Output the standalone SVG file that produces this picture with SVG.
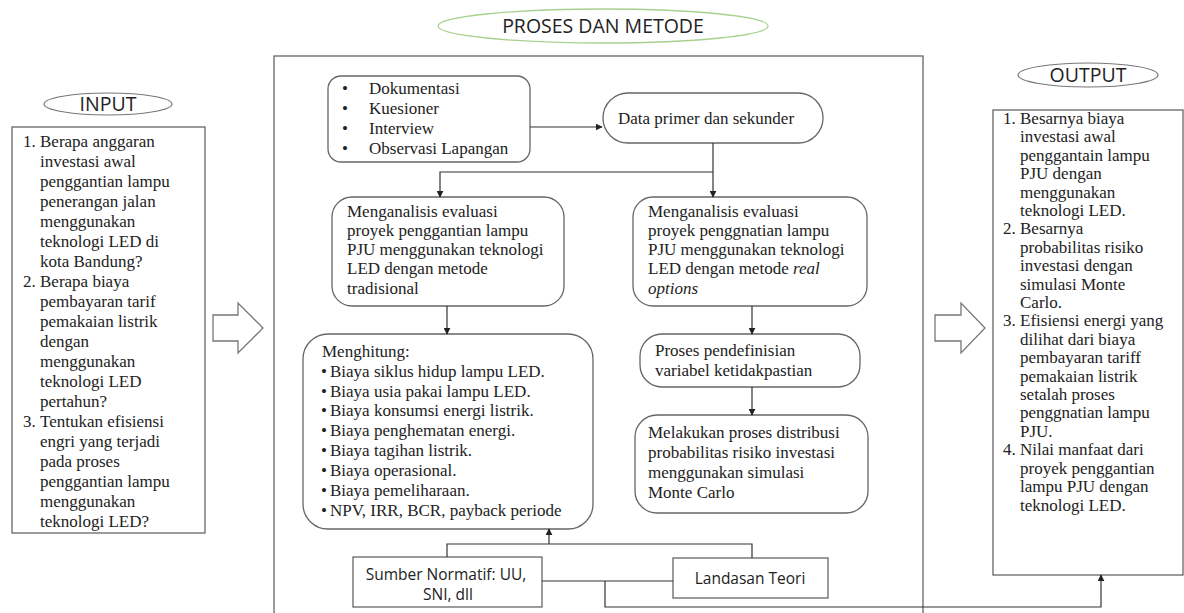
<svg xmlns="http://www.w3.org/2000/svg" width="1184" height="613" viewBox="0 0 1184 613">
<defs>
<style>
.t{font-family:"Liberation Serif","Times New Roman",serif;font-size:17px;fill:#222}
.s{font-family:"Open Sans","Liberation Sans",Arial,sans-serif;fill:#222}
.ttl{font-size:19.5px}
.box{fill:#fff;stroke:#666;stroke-width:1.3}
.c{fill:none;stroke:#333;stroke-width:1.2}
.blk{fill:#fff;stroke:#777;stroke-width:1.3}
</style>
<marker id="ah" viewBox="0 0 10 10" refX="9" refY="5" markerWidth="7" markerHeight="7" markerUnits="userSpaceOnUse" orient="auto">
<path d="M0,0 L10,5 L0,10 z" fill="#222"/>
</marker>
</defs>
<rect width="1184" height="613" fill="#fff"/>

<g id="input-title">
<ellipse cx="108" cy="104" rx="64" ry="11" fill="#fff" stroke="#777" stroke-width="1.2"/>
<text class="s ttl" x="108" y="111" text-anchor="middle">INPUT</text>
</g>

<g id="input-box">
<rect class="box" x="12" y="127" width="193" height="406"/>
<text class="t">
<tspan x="23" y="147">1.</tspan><tspan x="40" y="147">Berapa anggaran</tspan>
<tspan x="40" y="167">investasi awal</tspan>
<tspan x="40" y="187">penggantian lampu</tspan>
<tspan x="40" y="207">penerangan jalan</tspan>
<tspan x="40" y="227">menggunakan</tspan>
<tspan x="40" y="247">teknologi LED di</tspan>
<tspan x="40" y="267">kota Bandung?</tspan>
<tspan x="23" y="287">2.</tspan><tspan x="40" y="287">Berapa biaya</tspan>
<tspan x="40" y="307">pembayaran tarif</tspan>
<tspan x="40" y="327">pemakaian listrik</tspan>
<tspan x="40" y="347">dengan</tspan>
<tspan x="40" y="367">menggunakan</tspan>
<tspan x="40" y="387">teknologi LED</tspan>
<tspan x="40" y="407">pertahun?</tspan>
<tspan x="23" y="427">3.</tspan><tspan x="40" y="427">Tentukan efisiensi</tspan>
<tspan x="40" y="447">engri yang terjadi</tspan>
<tspan x="40" y="467">pada proses</tspan>
<tspan x="40" y="487">penggantian lampu</tspan>
<tspan x="40" y="507">menggunakan</tspan>
<tspan x="40" y="527">teknologi LED?</tspan>
</text>
</g>

<g id="arrow-left">
<polygon class="blk" points="213,315 238,315 238,303 263,328 238,353 238,341 213,341"/>
</g>

<g id="proses-title">
<ellipse cx="603" cy="26" rx="165" ry="17" fill="#fff" stroke="#a9d18e" stroke-width="1.3"/>
<text class="s ttl" x="603" y="33" text-anchor="middle">PROSES DAN METODE</text>
</g>

<g id="proses-frame">
<rect x="274" y="56" width="649" height="580" fill="none" stroke="#666" stroke-width="1.3"/>
</g>

<g id="dokumentasi">
<rect class="box" x="328" y="76" width="202" height="86" rx="13"/>
<text class="t">
<tspan x="342" y="94">•</tspan><tspan x="369" y="94">Dokumentasi</tspan>
<tspan x="342" y="114">•</tspan><tspan x="369" y="114">Kuesioner</tspan>
<tspan x="342" y="134">•</tspan><tspan x="369" y="134">Interview</tspan>
<tspan x="342" y="154">•</tspan><tspan x="369" y="154">Observasi Lapangan</tspan>
</text>
</g>

<g id="data">
<rect class="box" x="603" y="93" width="220" height="50" rx="25"/>
<text class="t" x="618" y="124">Data primer dan sekunder</text>
</g>

<g id="analisis-tradisional">
<rect class="box" x="332" y="197" width="232" height="109" rx="20"/>
<text class="t">
<tspan x="347" y="217">Menganalisis  evaluasi</tspan>
<tspan x="347" y="236">proyek penggantian  lampu</tspan>
<tspan x="347" y="255">PJU menggunakan  teknologi</tspan>
<tspan x="347" y="274">LED dengan metode</tspan>
<tspan x="347" y="294">tradisional</tspan>
</text>
</g>

<g id="analisis-real-options">
<rect class="box" x="633" y="197" width="234" height="109" rx="20"/>
<text class="t">
<tspan x="648" y="217">Menganalisis  evaluasi</tspan>
<tspan x="648" y="236">proyek penggnatian  lampu</tspan>
<tspan x="648" y="255">PJU menggunakan  teknologi</tspan>
<tspan x="648" y="274">LED dengan metode <tspan font-style="italic">real</tspan></tspan>
<tspan x="648" y="294" font-style="italic">options</tspan>
</text>
</g>

<g id="menghitung">
<rect class="box" x="303" y="334" width="290" height="195" rx="25"/>
<text class="t">
<tspan x="322" y="357">Menghitung:</tspan>
<tspan x="321" y="377">•</tspan><tspan x="330" y="377">Biaya siklus hidup lampu LED.</tspan>
<tspan x="321" y="397">•</tspan><tspan x="330" y="397">Biaya usia pakai lampu LED.</tspan>
<tspan x="321" y="416">•</tspan><tspan x="330" y="416">Biaya konsumsi energi listrik.</tspan>
<tspan x="321" y="436">•</tspan><tspan x="330" y="436">Biaya penghematan energi.</tspan>
<tspan x="321" y="456">•</tspan><tspan x="330" y="456">Biaya tagihan listrik.</tspan>
<tspan x="321" y="476">•</tspan><tspan x="330" y="476">Biaya operasional.</tspan>
<tspan x="321" y="496">•</tspan><tspan x="330" y="496">Biaya pemeliharaan.</tspan>
<tspan x="321" y="516">•</tspan><tspan x="330" y="516">NPV, IRR, BCR, payback periode</tspan>
</text>
</g>

<g id="pendefinisian">
<rect class="box" x="640" y="334" width="220" height="53" rx="22"/>
<text class="t">
<tspan x="655" y="356">Proses pendefinisian</tspan>
<tspan x="655" y="376">variabel  ketidakpastian</tspan>
</text>
</g>

<g id="monte-carlo">
<rect class="box" x="635" y="415" width="233" height="98" rx="22"/>
<text class="t">
<tspan x="648" y="438">Melakukan  proses distribusi</tspan>
<tspan x="648" y="458">probabilitas risiko investasi</tspan>
<tspan x="648" y="478">menggunakan  simulasi</tspan>
<tspan x="648" y="498">Monte Carlo</tspan>
</text>
</g>

<g id="sumber">
<rect class="box" x="353" y="557" width="189" height="50"/>
<text class="s" font-size="15.5" text-anchor="middle">
<tspan x="448" y="580">Sumber Normatif: UU,</tspan>
<tspan x="448" y="600">SNI, dll</tspan>
</text>
</g>

<g id="landasan">
<rect class="box" x="673" y="558" width="155" height="40"/>
<text class="s" x="750" y="584" font-size="15.5" text-anchor="middle">Landasan Teori</text>
</g>

<g id="arrow-right">
<polygon class="blk" points="935,315 961,315 961,303 985,328 961,353 961,341 935,341"/>
</g>

<g id="output-title">
<ellipse cx="1088" cy="75" rx="70" ry="12" fill="#fff" stroke="#777" stroke-width="1.2"/>
<text class="s ttl" x="1088" y="82" text-anchor="middle">OUTPUT</text>
</g>

<g id="output-box">
<rect class="box" x="993" y="110" width="190" height="465"/>
<text class="t">
<tspan x="1003" y="124">1.</tspan><tspan x="1020" y="124">Besarnya biaya</tspan>
<tspan x="1020" y="142">investasi awal</tspan>
<tspan x="1020" y="161">penggantain lampu</tspan>
<tspan x="1020" y="179">PJU dengan</tspan>
<tspan x="1020" y="198">menggunakan</tspan>
<tspan x="1020" y="216">teknologi LED.</tspan>
<tspan x="1003" y="234">2.</tspan><tspan x="1020" y="234">Besarnya</tspan>
<tspan x="1020" y="253">probabilitas risiko</tspan>
<tspan x="1020" y="271">investasi dengan</tspan>
<tspan x="1020" y="290">simulasi Monte</tspan>
<tspan x="1020" y="308">Carlo.</tspan>
<tspan x="1003" y="326">3.</tspan><tspan x="1020" y="326">Efisiensi energi yang</tspan>
<tspan x="1020" y="345">dilihat dari biaya</tspan>
<tspan x="1020" y="363">pembayaran tariff</tspan>
<tspan x="1020" y="382">pemakaian listrik</tspan>
<tspan x="1020" y="400">setalah proses</tspan>
<tspan x="1020" y="418">penggnatian lampu</tspan>
<tspan x="1020" y="437">PJU.</tspan>
<tspan x="1003" y="455">4.</tspan><tspan x="1020" y="455">Nilai manfaat dari</tspan>
<tspan x="1020" y="474">proyek penggantian</tspan>
<tspan x="1020" y="492">lampu PJU dengan</tspan>
<tspan x="1020" y="511">teknologi LED.</tspan>
</text>
</g>

<g id="connectors">
<path class="c" d="M530,127 H602" marker-end="url(#ah)"/>
<path class="c" d="M713,143 V197" marker-end="url(#ah)"/>
<path class="c" d="M713,172 H440 V197" marker-end="url(#ah)"/>
<path class="c" d="M447,306 V334" marker-end="url(#ah)"/>
<path class="c" d="M752,306 V334" marker-end="url(#ah)"/>
<path class="c" d="M752,387 V415" marker-end="url(#ah)"/>
<path class="c" d="M447,557 V544 H752 V558"/>
<path class="c" d="M549,544 V529" marker-end="url(#ah)"/>
<path class="c" d="M542,581 H673"/>
<path class="c" d="M605,581 V607 H1101 V575" marker-end="url(#ah)"/>
</g>
</svg>
